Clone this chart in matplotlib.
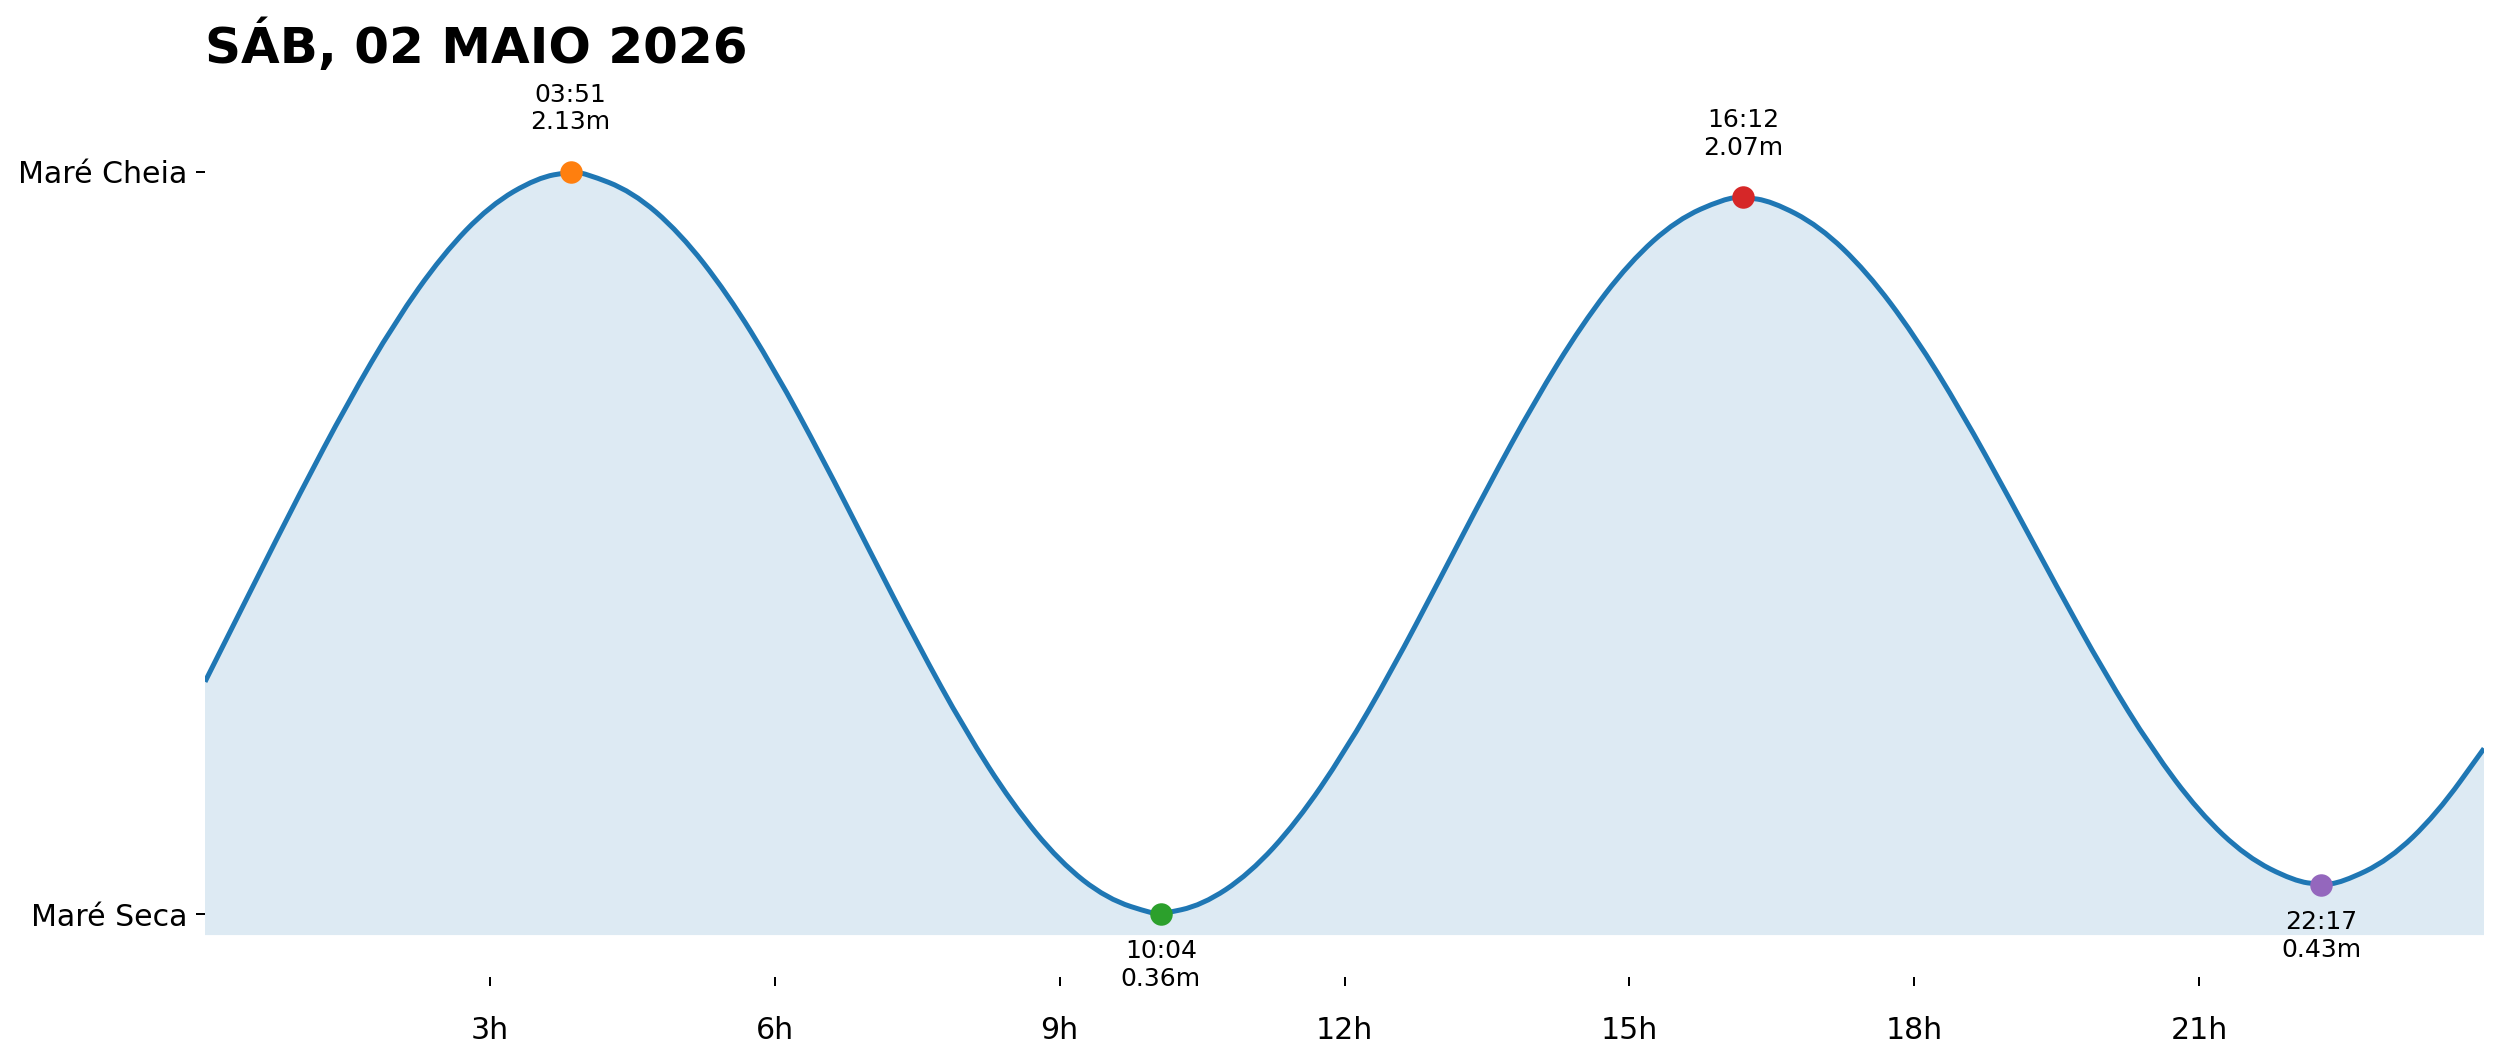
import matplotlib
matplotlib.use("Agg")
import matplotlib.pyplot as plt
from matplotlib.path import Path
from matplotlib.patches import PathPatch

# tide height (hours, metres)
hours = [0.0, 0.5, 1.0, 1.5, 2.0, 2.5, 3.0, 3.5, 3.85,
         4.0, 4.5, 5.0, 5.5, 6.0, 6.5, 7.0, 7.5, 8.0, 8.5, 9.0, 9.5, 10.0, 10.0667,
         10.5, 11.0, 11.5, 12.0, 12.5, 13.0, 13.5, 14.0, 14.5, 15.0, 15.5, 16.0, 16.2,
         16.5, 17.0, 17.5, 18.0, 18.5, 19.0, 19.5, 20.0, 20.5, 21.0, 21.5, 22.0, 22.2833,
         22.5, 23.0, 23.5, 24.0]
height = [0.914, 1.140, 1.364, 1.578, 1.772, 1.932, 2.050, 2.116, 2.13,
          2.127, 2.083, 1.985, 1.840, 1.657, 1.448, 1.226, 1.006, 0.800, 0.623, 0.485, 0.396, 0.360, 0.36,
          0.381, 0.456, 0.580, 0.746, 0.942, 1.157, 1.375, 1.582, 1.766, 1.914, 2.016, 2.066, 2.07,
          2.060, 2.001, 1.892, 1.741, 1.557, 1.352, 1.141, 0.937, 0.754, 0.603, 0.496, 0.439, 0.43,
          0.435, 0.489, 0.598, 0.755]

# high / low tide events
event_times = ["03:51", "10:04", "16:12", "22:17"]
event_hours = [3.85, 10.0667, 16.2, 22.2833]
event_heights = [2.13, 0.36, 2.07, 0.43]
event_high = [True, False, True, False]
event_colors = ["tab:orange", "tab:green", "tab:red", "tab:purple"]

xticks = [3, 6, 9, 12, 15, 18, 21]
xtick_labels = ["3h", "6h", "9h", "12h", "15h", "18h", "21h"]
title = "SÁB, 02 MAIO 2026"


def smooth_path(xs, ys):
    # quadratic bezier: the readings are control points, matplotlib draws the curve
    verts = [(xs[0], ys[0])]
    codes = [Path.MOVETO]
    for i in range(1, len(xs) - 1):
        verts.append((xs[i], ys[i]))
        verts.append(((xs[i] + xs[i + 1]) / 2, (ys[i] + ys[i + 1]) / 2))
        codes += [Path.CURVE3, Path.CURVE3]
    verts.append((xs[-1], ys[-1]))
    codes.append(Path.LINETO)
    return verts, codes


fig = plt.figure(figsize=(2501 / 180, 1062 / 180), dpi=180)
ax = fig.add_axes([205 / 2501, 1 - 977 / 1062, (2484 - 205) / 2501, (977 - 88) / 1062])

hmin = min(event_heights)
hmax = max(event_heights)
base = hmin - 0.05

verts, codes = smooth_path(hours, height)
fill_verts = [(hours[0], base)] + verts + [(hours[-1], base), (hours[0], base)]
fill_codes = [Path.MOVETO, Path.LINETO] + codes[1:] + [Path.LINETO, Path.CLOSEPOLY]
ax.add_patch(PathPatch(Path(fill_verts, fill_codes), facecolor="tab:blue", alpha=0.15, linewidth=0))
ax.add_patch(PathPatch(Path(verts, codes), facecolor="none", edgecolor="tab:blue", linewidth=2))

for t, h, lab, hi, c in zip(event_hours, event_heights, event_times, event_high, event_colors):
    ax.plot(t, h, "o", color=c, markersize=8, zorder=5)
    if hi:
        ax.annotate(f"{lab}\n{h:.2f}m", (t, h), xytext=(0, 15), textcoords="offset points",
                    ha="center", va="bottom", fontsize=10)
    else:
        ax.annotate(f"{lab}\n{h:.2f}m", (t, h), xytext=(0, -10), textcoords="offset points",
                    ha="center", va="top", fontsize=10)

ax.set_xlim(0, 24)
ax.set_ylim(hmin - 0.15, hmax + 0.2)
ax.set_xticks(xticks)
ax.set_xticklabels(xtick_labels)
ax.set_yticks([hmin, hmax])
ax.set_yticklabels(["Maré Seca", "Maré Cheia"])
ax.tick_params(axis="both", labelsize=12)
ax.tick_params(axis="x", pad=12)
for s in ax.spines.values():
    s.set_visible(False)

ax.set_title(title, loc="left", fontsize=20, fontweight="bold", pad=10)

fig.savefig("out.png", dpi=180)
